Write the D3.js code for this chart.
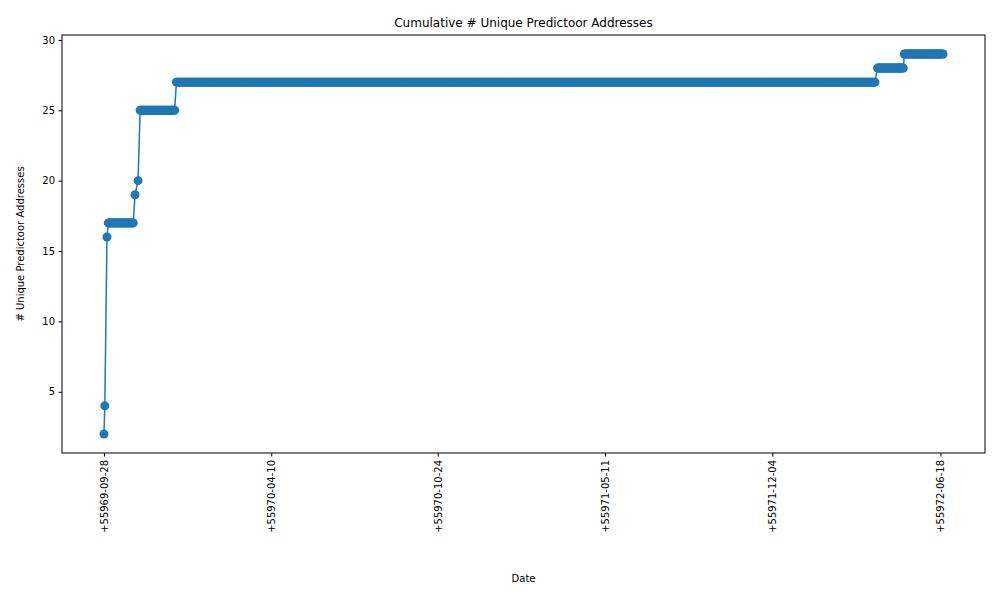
<!DOCTYPE html>
<html><head><meta charset="utf-8">
<script src="https://cdn.jsdelivr.net/npm/d3@7"></script>
<style>body{margin:0;background:#fff}text{font-family:"DejaVu Sans",sans-serif}</style>
</head><body><svg id="c" width="1000" height="600"></svg>
<script>
// Single points (day offset, value)
const singleDays = [0, 1, 3.5, 36, 39.5];
const singleVals = [2, 4, 16, 19, 20];
// Flat runs: start day, end day, value (one point per day)
const runStarts = [5, 42, 84, 897, 928];
const runEnds = [34, 82, 894, 927, 973];
const runVals = [17, 25, 27, 28, 29];
const tickDays = [0, 194, 387, 581, 775, 970];
const tickLabels = ["+55969-09-28","+55970-04-10","+55970-10-24","+55971-05-11","+55971-12-04","+55972-06-18"];
const yTicks = [5,10,15,20,25,30];

let data = singleDays.map((d,i)=>({d, v:singleVals[i]}));
runStarts.forEach((s,i)=>{ for(let d=s; d<=runEnds[i]; d++) data.push({d, v:runVals[i]}); });
data.sort((a,b)=>a.d-b.d);

const L=62,R=985,T=35,B=453;
const xMin=0,xMax=973,pad=(xMax-xMin)*0.05;
const x=d3.scaleLinear().domain([xMin-pad,xMax+pad]).range([L,R]);
const yp=(29-2)*0.05;
const y=d3.scaleLinear().domain([2-yp,29+yp]).range([B,T]);
const svg=d3.select("#c");
const col="#1f77b4";

svg.append("path").datum(data).attr("fill","none").attr("stroke",col).attr("stroke-width",1.5)
 .attr("d",d3.line().x(p=>x(p.d)).y(p=>y(p.v)));
svg.append("g").selectAll("circle").data(data).join("circle")
 .attr("cx",p=>x(p.d)).attr("cy",p=>y(p.v)).attr("r",4.5).attr("fill",col);

svg.append("rect").attr("x",L).attr("y",T).attr("width",R-L).attr("height",B-T)
 .attr("fill","none").attr("stroke","#000").attr("stroke-width",1);

const ya=svg.append("g").attr("transform",`translate(${L},0)`)
 .call(d3.axisLeft(y).tickValues(yTicks).tickSize(3.5).tickPadding(3.5));
ya.select(".domain").remove();
ya.selectAll("text").attr("font-size",10).attr("fill","#000").attr("font-family","DejaVu Sans");

const xa=svg.append("g").attr("transform",`translate(0,${B})`)
 .call(d3.axisBottom(x).tickValues(tickDays).tickFormat((d,i)=>tickLabels[i]).tickSize(3.5));
xa.select(".domain").remove();
xa.selectAll("text").attr("font-size",10).attr("fill","#000").attr("font-family","DejaVu Sans")
 .attr("transform","rotate(-90)").attr("text-anchor","end").attr("dy","0.35em").attr("x",-7).attr("y",0);

svg.append("text").attr("x",(L+R)/2).attr("y",27).attr("text-anchor","middle").attr("font-size",12).text("Cumulative # Unique Predictoor Addresses");
svg.append("text").attr("x",(L+R)/2).attr("y",582).attr("text-anchor","middle").attr("font-size",10).text("Date");
svg.append("text").attr("transform",`translate(24,${(T+B)/2}) rotate(-90)`).attr("text-anchor","middle").attr("font-size",10).text("# Unique Predictoor Addresses");
</script></body></html>
